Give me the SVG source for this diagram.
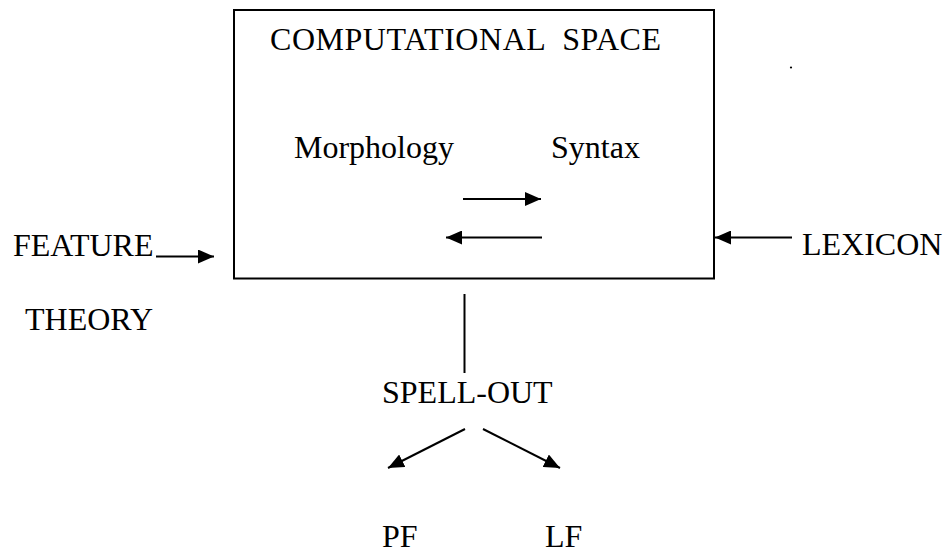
<svg xmlns="http://www.w3.org/2000/svg" width="944" height="554" viewBox="0 0 944 554">
  <style>
    .lbl { font-family: "Liberation Serif", "DejaVu Serif", serif; font-size: 32px; fill: #000; }
    .edge { stroke: #000; stroke-width: 2; fill: none; }
    .box { stroke: #000; stroke-width: 2; fill: #fff; }
  </style>
  <defs>
    <marker id="head" viewBox="0 0 16 14" refX="16" refY="7" markerWidth="16" markerHeight="14" markerUnits="userSpaceOnUse" orient="auto">
      <path d="M0,0 L16,7 L0,14 Z" fill="#000"/>
    </marker>
  </defs>
  <rect width="944" height="554" fill="#fff"/>

  <!-- computational space box with its internal labels -->
  <g id="computational-space">
    <rect class="box" x="234" y="10" width="480" height="268.5"/>
    <text class="lbl" x="270" y="50" xml:space="preserve" textLength="391" lengthAdjust="spacing">COMPUTATIONAL  SPACE</text>
  </g>
  <g id="morphology">
    <text class="lbl" x="294" y="158">Morphology</text>
  </g>
  <g id="syntax">
    <text class="lbl" x="551" y="158">Syntax</text>
  </g>

  <g id="feature-theory">
    <text class="lbl" x="13" y="256">FEATURE</text>
    <text class="lbl" x="25" y="329.5">THEORY</text>
  </g>
  <g id="lexicon">
    <text class="lbl" x="802" y="255">LEXICON</text>
  </g>
  <g id="stray-dot">
    <circle cx="791" cy="67.5" r="1.1" fill="#000"/>
  </g>
  <g id="spell-out">
    <text class="lbl" x="382" y="402.5">SPELL-OUT</text>
  </g>
  <g id="pf">
    <text class="lbl" x="382" y="547">PF</text>
  </g>
  <g id="lf">
    <text class="lbl" x="545" y="547">LF</text>
  </g>

  <!-- connectors -->
  <g id="connectors">
    <line class="edge" x1="463" y1="199" x2="541" y2="199" marker-end="url(#head)"/>
    <line class="edge" x1="542" y1="237.5" x2="446" y2="237.5" marker-end="url(#head)"/>
    <line class="edge" x1="156" y1="256.5" x2="214" y2="256.5" marker-end="url(#head)"/>
    <line class="edge" x1="792" y1="237.5" x2="715" y2="237.5" marker-end="url(#head)"/>
    <line class="edge" x1="464.5" y1="294" x2="464.5" y2="373"/>
    <line class="edge" x1="465" y1="429" x2="388" y2="468" marker-end="url(#head)"/>
    <line class="edge" x1="483" y1="429" x2="560" y2="468" marker-end="url(#head)"/>
  </g>
</svg>
